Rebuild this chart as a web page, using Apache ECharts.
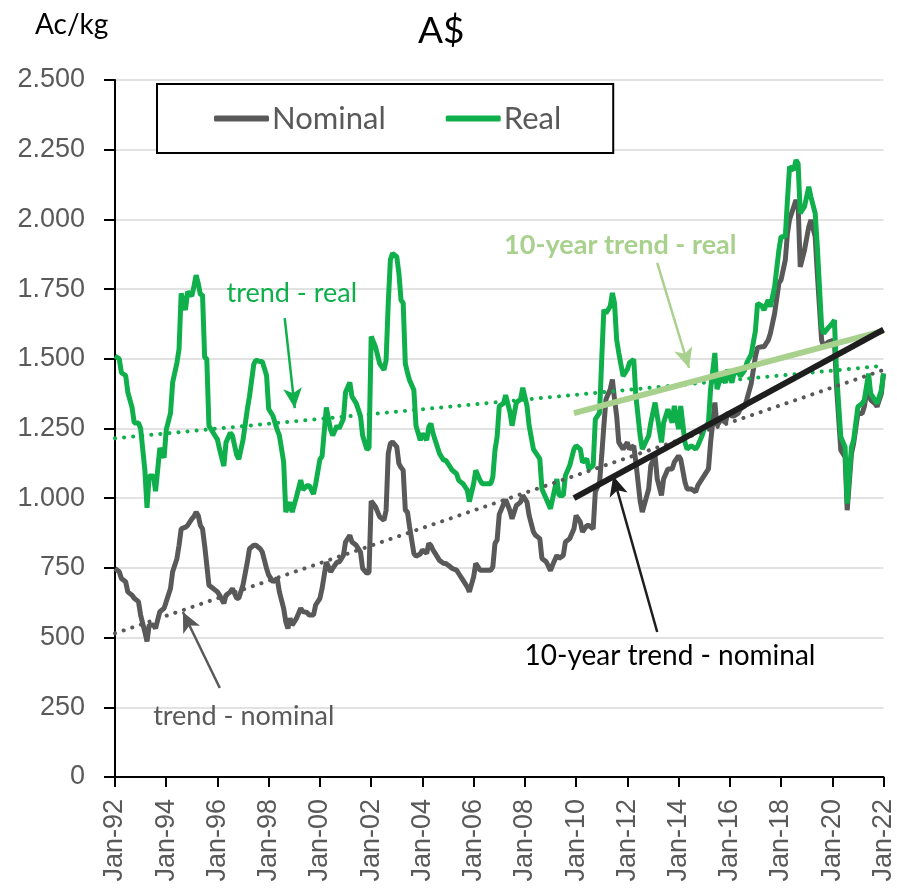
<!DOCTYPE html>
<html>
<head>
<meta charset="utf-8">
<script src="https://cdn.jsdelivr.net/npm/echarts@6/dist/echarts.min.js"></script>
<style>
html,body{margin:0;padding:0;background:#fff}
#chart{width:897px;height:889px}
</style>
</head>
<body>
<div id="chart"></div>
<script>
// month offset from Jan-92
var months = [0,2,3,5,6,8,9,11,12,14,15,16,18,19,21,23,24,26,27,29,30,31,33,34,36,37,38,39,40,41,42,43,44,46,48,49,51,52,54,55,57,58,
  60,62,63,65,66,68,69,71,72,74,76,77,79,80,81,82,83,85,87,88,90,91,93,94,96,97,99,101,102,104,105,107,108,110,111,113,115,116,118,119,
  120,122,124,126,127,128,129,130,132,133,134,135,136,137,138,140,141,143,144,146,147,148,149,150,152,154,155,157,158,160,161,163,165,166,168,169,171,172,174,176,177,178,179,
  180,182,183,185,186,188,190,191,193,194,196,197,199,200,202,204,205,207,208,210,211,213,215,216,218,219,221,222,224,225,227,228,229,230,232,233,234,235,236,238,
  240,241,243,244,246,247,250,251,253,254,256,257,259,261,262,264,265,267,268,270,272,273,275,276,278,279,281,282,284,286,287,289,290,292,293,295,296,298,
  300,301,303,304,306,307,309,311,312,314,315,316,318,319,320,321,323,325,326,328,329,331,332,334,336,337,338,340,342,343,345,346,348,350,351,353,354,356,357,359,360];
var real = [1510,1500,1450,1440,1380,1325,1270,1270,1250,1100,965,1080,1080,1025,1180,1145,1245,1305,1415,1485,1535,1735,1675,1740,1725,1760,1800,1770,1730,1730,1505,1500,1260,1235,1210,1175,1115,1200,1235,1225,1155,1140,
  1210,1320,1365,1480,1495,1490,1490,1440,1320,1295,1245,1225,1130,950,970,985,950,1005,1065,1030,1045,1045,1015,1050,1140,1150,1325,1245,1225,1260,1250,1285,1380,1415,1365,1340,1295,1225,1175,1180,
  1580,1543,1483,1460,1495,1700,1855,1878,1866,1806,1710,1700,1483,1450,1423,1388,1260,1208,1232,1208,1255,1268,1232,1208,1160,1136,1136,1112,1100,1088,1064,1052,1029,988,1052,1100,1064,1052,1052,1052,1076,1172,1220,
  1330,1340,1370,1310,1260,1343,1355,1396,1331,1260,1176,1164,1141,1033,998,962,998,1069,1010,1010,1081,1117,1176,1188,1176,1129,1141,1105,1117,1283,1307,1498,1676,1664,1688,1736,1700,1569,1521,1438,
  1462,1486,1498,1367,1224,1176,1224,1271,1343,1295,1200,1271,1319,1271,1331,1248,1331,1200,1176,1188,1176,1188,1224,1248,1271,1391,1521,1391,1438,1414,1462,1414,1450,1450,1438,1460,1486,1515,
  1600,1699,1690,1675,1711,1687,1758,1890,1938,1938,2069,2189,2177,2213,2200,2022,2046,2117,2081,2022,1902,1615,1591,1610,1627,1639,1450,1220,1184,981,1184,1208,1328,1340,1352,1447,1375,1352,1340,1388,1447];
var nominal = [748,736,712,700,664,652,641,629,581,520,486,545,545,533,593,605,629,676,736,783,831,890,896,902,926,935,950,938,902,890,830,760,688,676,664,652,623,652,664,676,641,641,
  690,771,819,831,831,819,807,748,724,700,712,664,605,557,533,569,545,569,605,593,590,581,581,617,641,676,771,736,748,771,771,795,843,867,843,831,807,748,730,735,
  990,969,933,921,957,1160,1196,1202,1184,1124,1110,1100,957,950,897,802,792,800,814,802,838,830,814,802,777,766,766,754,748,742,730,706,682,664,718,766,742,742,742,742,754,838,850,
  942,978,995,955,926,974,986,1010,986,938,879,867,855,784,772,740,760,795,784,795,843,855,890,938,914,879,902,902,890,1022,1057,1152,1260,1355,1391,1426,1355,1295,1200,1176,
  1200,1176,1188,1129,990,950,1033,1117,1152,1069,1010,1069,1105,1105,1129,1152,1140,1057,1033,1033,1022,1045,1069,1081,1105,1200,1343,1260,1283,1271,1307,1295,1295,1305,1320,1330,1355,1410,
  1508,1540,1543,1543,1567,1591,1663,1771,1783,1854,1950,2000,2046,2069,2050,1830,1890,1974,1998,1938,1806,1567,1543,1560,1565,1565,1400,1172,1148,957,1160,1196,1304,1304,1328,1423,1352,1340,1328,1376,1447];

var trendMonths = [0, 360];
var trendReal = [1215, 1475];
var trendNominal = [515, 1460];
var tenYearMonths = [215, 360];
var tenYearReal = [1305, 1600];
var tenYearNominal = [1000, 1605];

var FONT = 'Lato';
var AXISFONT = 'Liberation Sans';
var GREEN = '#0FAF4B', GREY = '#595959', LIGHT = '#A9D18E', BLACK = '#1E1E1E';

function pairs(xs, ys) {
  return xs.map(function (x, i) { return [x, ys[i]]; });
}
function arrow(from, to, color) {
  return {
    silent: true, symbol: ['none', 'arrow'], symbolSize: [14, 20], label: {show: false},
    lineStyle: {color: color, width: 2.5, type: 'solid'},
    data: [[{coord: from}, {coord: to}]]
  };
}

var chart = echarts.init(document.getElementById('chart'));
var option = {
  animation: false,
  title: {text: 'A$', left: 413, top: 8, textStyle: {fontFamily: FONT, fontSize: 37, fontWeight: 'normal', color: '#000'}},
  legend: {
    data: ['Nominal', 'Real'], left: 157, top: 84,
    icon: 'roundRect', itemWidth: 55, itemHeight: 6, itemGap: 60,
    padding: [19, 52, 19, 57], borderColor: '#000', borderWidth: 2, backgroundColor: '#fff',
    textStyle: {fontFamily: FONT, fontSize: 31, color: GREY, padding: [0, 0, 0, -2]}
  },
  grid: {left: 115, right: 13, top: 80, bottom: 112, containLabel: false},
  xAxis: {
    type: 'value', min: 0, max: 360, interval: 24,
    axisLine: {lineStyle: {color: '#000', width: 2}},
    axisTick: {length: 10, lineStyle: {color: '#000', width: 2}},
    splitLine: {show: false},
    axisLabel: {
      rotate: 90, margin: 22, fontFamily: AXISFONT, fontSize: 27, color: GREY, showMaxLabel: true,
      formatter: function (m) {
        var y = (92 + Math.round(m / 12)) % 100;
        return 'Jan-' + (y < 10 ? '0' + y : y);
      }
    }
  },
  yAxis: {
    type: 'value', min: 0, max: 2500, interval: 250,
    axisLine: {show: true, lineStyle: {color: '#000', width: 2}},
    axisTick: {show: true, length: 11, lineStyle: {color: '#000', width: 2}},
    splitLine: {lineStyle: {color: '#D9D9D9', width: 1.5}},
    axisLabel: {
      margin: 30, fontFamily: AXISFONT, fontSize: 27, color: GREY,
      formatter: function (v) {
        return v >= 1000 ? Math.floor(v / 1000) + '.' + String(v % 1000).padStart(3, '0') : String(v);
      }
    }
  },
  series: [
    {name: 'Nominal', type: 'line', data: pairs(months, nominal), showSymbol: false, z: 2,
     itemStyle: {color: GREY}, lineStyle: {color: GREY, width: 5}},
    {name: 'Real', type: 'line', data: pairs(months, real), showSymbol: false, z: 3,
     itemStyle: {color: GREEN}, lineStyle: {color: GREEN, width: 5}},
    {name: 'trend - real', type: 'line', data: pairs(trendMonths, trendReal), showSymbol: false, z: 4,
     lineStyle: {color: GREEN, width: 4, type: [0.1, 9], cap: 'round'},
     markLine: arrow([79.5, 1646], [84.2, 1323], GREEN)},
    {name: 'trend - nominal', type: 'line', data: pairs(trendMonths, trendNominal), showSymbol: false, z: 4,
     lineStyle: {color: GREY, width: 4, type: [0.1, 9], cap: 'round'},
     markLine: arrow([49.1, 319], [31.8, 592], GREY)},
    {name: '10-year trend - real', type: 'line', data: pairs(tenYearMonths, tenYearReal), showSymbol: false, z: 5,
     lineStyle: {color: LIGHT, width: 6},
     markLine: arrow([254, 1844], [268.9, 1467], LIGHT)},
    {name: '10-year trend - nominal', type: 'line', data: pairs(tenYearMonths, tenYearNominal), showSymbol: false, z: 6,
     lineStyle: {color: BLACK, width: 6},
     markLine: arrow([254, 520], [233.4, 1080], BLACK)}
  ]
};
chart.setOption(option);

// annotation texts, placed in data coordinates
var notes = [
  {text: 'trend - real', at: [82.8, 1736], color: GREEN, weight: 'normal', size: 27},
  {text: 'trend - nominal', at: [60.3, 219], color: GREY, weight: 'normal', size: 27},
  {text: '10-year trend - real', at: [236.7, 1908], color: LIGHT, weight: 'bold', size: 27},
  {text: '10-year trend - nominal', at: [260, 434], color: '#000', weight: 'normal', size: 28}
];
var graphics = notes.map(function (n) {
  var p = chart.convertToPixel({gridIndex: 0}, n.at);
  return {type: 'text', x: p[0], y: p[1], z: 20,
    style: {text: n.text, fill: n.color, font: n.weight + ' ' + n.size + 'px ' + FONT, align: 'center', verticalAlign: 'middle'}};
});
graphics.push({type: 'text', x: 35, y: 11, style: {text: 'Ac/kg', fill: '#000', font: '28px ' + FONT}});
chart.setOption({graphic: graphics});
</script>
</body>
</html>
